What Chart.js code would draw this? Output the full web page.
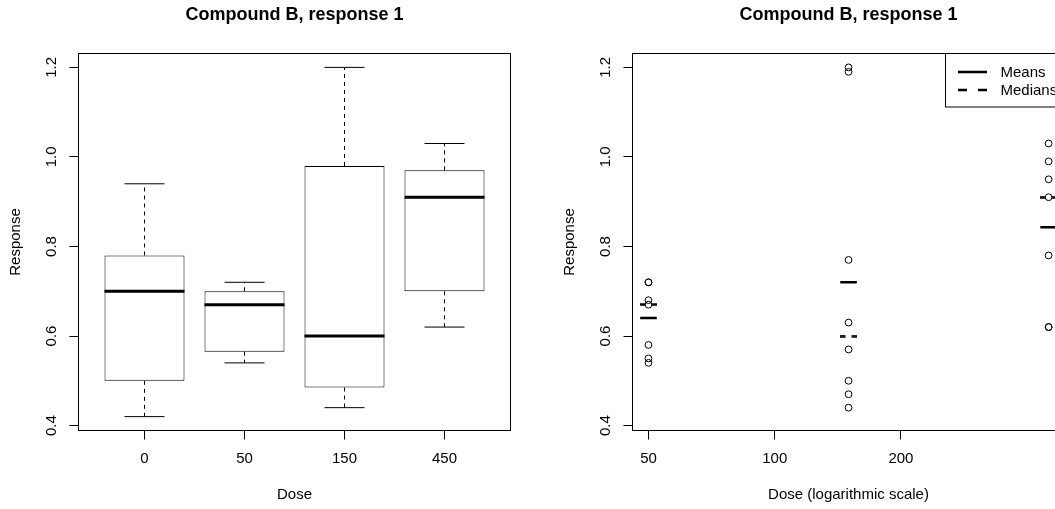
<!DOCTYPE html>
<html lang="en">
<head>
<meta charset="UTF-8">
<title>Compound B, response 1</title>
<script src="https://cdn.jsdelivr.net/npm/chart.js"></script>
<style>
  html, body {
    margin: 0;
    padding: 0;
    background: #ffffff;
    width: 1055px;
    height: 509px;
    overflow: hidden;
  }
  .panel {
    position: absolute;
    top: 0;
    width: 554px;
    height: 509px;
  }
  #leftPanel { left: 0; }
  #rightPanel { left: 554px; }
</style>
</head>
<body>

<div class="panel" id="leftPanel"><canvas id="boxChart" width="554" height="509"></canvas></div>
<div class="panel" id="rightPanel"><canvas id="doseChart" width="554" height="509"></canvas></div>

<script>
  // values
  const titleText = 'Compound B, response 1';

  // left panel: boxplot per dose group
  const doseLabels = ['0', '50', '150', '450'];
  const boxMin    = [0.42, 0.54, 0.44, 0.62];
  const boxQ1     = [0.50, 0.565, 0.485, 0.70];
  const boxMedian = [0.70, 0.67, 0.60, 0.91];
  const boxQ3     = [0.78, 0.70, 0.98, 0.97];
  const boxMax    = [0.94, 0.72, 1.20, 1.03];

  // right panel: raw responses on a log dose axis
  const doseLevels  = [50, 150, 450];
  const respDose50  = [0.72, 0.72, 0.68, 0.67, 0.58, 0.55, 0.54];
  const respDose150 = [1.20, 1.19, 0.77, 0.63, 0.57, 0.50, 0.47, 0.44];
  const respDose450 = [1.03, 0.99, 0.95, 0.91, 0.78, 0.62, 0.62];
  const doseMeans   = [0.64, 0.72, 0.843];
  const doseMedians = [0.67, 0.60, 0.91];

  // axes
  const yTicks = [0.4, 0.6, 0.8, 1.0, 1.2];
  const yRange = [0.389, 1.231];
  const boxXRange = [0.34, 4.66];
  const logTicks = [50, 100, 200];
  const logXRange = [45.8, 491];
  const legendLabels = ['Means', 'Medians'];

  Chart.defaults.font.family = "'Liberation Sans', Arial, Helvetica, sans-serif";
  Chart.defaults.color = '#000';
  Chart.defaults.animation = false;
  Chart.defaults.events = [];

  const framePlugin = {
    id: 'frame',
    afterDatasetsDraw(chart) {
      const a = chart.chartArea;
      const ctx = chart.ctx;
      ctx.save();
      ctx.strokeStyle = '#000';
      ctx.lineWidth = 1;
      ctx.strokeRect(a.left, a.top, a.right - a.left, a.bottom - a.top);
      ctx.restore();
    }
  };

  const legendPlugin = {
    id: 'rLegend',
    afterDraw(chart) {
      const a = chart.chartArea;
      const ctx = chart.ctx;
      const w = 119, h = 53.5;
      const left = a.right - w, top = a.top;
      ctx.save();
      ctx.fillStyle = '#fff';
      ctx.fillRect(left, top, w, h);
      ctx.strokeStyle = '#000';
      ctx.lineWidth = 1;
      ctx.strokeRect(left, top, w, h);
      ctx.font = "15px 'Liberation Sans', Arial, sans-serif";
      ctx.fillStyle = '#000';
      ctx.textBaseline = 'middle';
      legendLabels.forEach((label, i) => {
        const y = top + 18.5 + i * 18;
        ctx.lineWidth = 2.5;
        ctx.setLineDash(i ? [9, 11] : []);
        ctx.beginPath();
        ctx.moveTo(left + 12.5, y);
        ctx.lineTo(left + 41.5, y);
        ctx.stroke();
        ctx.fillText(label, left + 55, y + 0.5);
      });
      ctx.restore();
    }
  };

  function responseAxis() {
    return {
      min: yRange[0],
      max: yRange[1],
      afterBuildTicks: s => { s.ticks = yTicks.map(v => ({ value: v })); },
      afterFit: s => { s.width = 78.5; },
      border: { display: false },
      grid: { drawOnChartArea: false, drawTicks: true, tickLength: 9, color: '#000' },
      ticks: {
        minRotation: 90, maxRotation: 90, crossAlign: 'center', padding: 7.5,
        font: { size: 15 }, color: '#000',
        callback: v => v.toFixed(1)
      },
      title: { display: true, text: 'Response', font: { size: 15 }, color: '#000', padding: { top: 6.5, bottom: 0 } }
    };
  }

  function chartTitle() {
    return {
      display: true, text: titleText, fullSize: false, color: '#000',
      font: { size: 18, weight: 'bold' },
      padding: { top: 4.7, bottom: 27.2 }
    };
  }

  // ---------- left: boxplot ----------
  const groupX = doseLabels.map((_, i) => i + 1);

  const whiskerSets = groupX.flatMap((x, i) => [
    [{ x, y: boxQ3[i] }, { x, y: boxMax[i] }],
    [{ x, y: boxQ1[i] }, { x, y: boxMin[i] }]
  ]).map(pts => ({
    type: 'line', data: pts, borderColor: '#000', borderWidth: 1,
    borderDash: [4, 4], pointRadius: 0, order: 3
  }));

  new Chart(document.getElementById('boxChart'), {
    type: 'bar',
    data: {
      datasets: [
        {
          type: 'bar',
          data: groupX.map((x, i) => ({ x, y: [boxQ1[i], boxQ3[i]] })),
          backgroundColor: '#fff', borderColor: '#000', borderWidth: 1,
          borderSkipped: false, barPercentage: 0.8, categoryPercentage: 1.0, order: 2
        },
        ...whiskerSets,
        {
          type: 'scatter',
          data: groupX.flatMap((x, i) => [{ x, y: boxMax[i] }, { x, y: boxMin[i] }]),
          pointStyle: 'line', pointRadius: 20, pointBorderWidth: 1,
          pointBorderColor: '#000', order: 1
        },
        {
          type: 'scatter',
          data: groupX.map((x, i) => ({ x, y: boxMedian[i] })),
          pointStyle: 'line', pointRadius: 40, pointBorderWidth: 3,
          pointBorderColor: '#000', order: 0
        }
      ]
    },
    options: {
      responsive: false,
      layout: { padding: { left: 0, right: 43.5, top: 0, bottom: 0 } },
      scales: {
        x: {
          type: 'linear', min: boxXRange[0], max: boxXRange[1], offset: false,
          afterBuildTicks: s => { s.ticks = groupX.map(v => ({ value: v })); },
          afterFit: s => { s.height = 78.5; },
          border: { display: false },
          grid: { offset: false, drawOnChartArea: false, drawTicks: true, tickLength: 9, color: '#000' },
          ticks: {
            padding: 10.5, maxRotation: 0, minRotation: 0, autoSkip: false,
            font: { size: 15 }, color: '#000',
            callback: (v, i) => doseLabels[i]
          },
          title: { display: true, text: 'Dose', font: { size: 15 }, color: '#000', padding: { top: 0, bottom: 5.5 } }
        },
        y: responseAxis()
      },
      plugins: {
        legend: { display: false },
        tooltip: { enabled: false },
        title: chartTitle()
      }
    },
    plugins: [framePlugin]
  });

  // ---------- right: responses vs log dose ----------
  const respByDose = [respDose50, respDose150, respDose450];

  const medianMark = document.createElement('canvas');
  medianMark.width = 17;
  medianMark.height = 3;
  const mctx = medianMark.getContext('2d');
  mctx.fillStyle = '#000';
  mctx.fillRect(0, 0.25, 5.5, 2.5);
  mctx.fillRect(11.5, 0.25, 5.5, 2.5);

  new Chart(document.getElementById('doseChart'), {
    type: 'scatter',
    data: {
      datasets: [
        {
          data: doseLevels.flatMap((d, i) => respByDose[i].map(y => ({ x: d, y }))),
          pointStyle: 'circle', pointRadius: 3.4, pointBorderWidth: 1,
          pointBorderColor: '#000', pointBackgroundColor: 'rgba(0,0,0,0)'
        },
        {
          data: doseLevels.map((d, i) => ({ x: d, y: doseMeans[i] })),
          pointStyle: 'line', pointRadius: 8.3, pointBorderWidth: 2.5,
          pointBorderColor: '#000'
        },
        {
          data: doseLevels.map((d, i) => ({ x: d, y: doseMedians[i] })),
          pointStyle: medianMark, pointRadius: 8
        }
      ]
    },
    options: {
      responsive: false,
      layout: { padding: { left: 0, right: 43.5, top: 0, bottom: 0 } },
      scales: {
        x: {
          type: 'logarithmic', min: logXRange[0], max: logXRange[1],
          afterBuildTicks: s => { s.ticks = logTicks.map(v => ({ value: v })); },
          afterFit: s => { s.height = 78.5; },
          border: { display: false },
          grid: { drawOnChartArea: false, drawTicks: true, tickLength: 9, color: '#000' },
          ticks: {
            padding: 10.5, maxRotation: 0, minRotation: 0, autoSkip: false,
            font: { size: 15 }, color: '#000',
            callback: v => String(v)
          },
          title: { display: true, text: 'Dose (logarithmic scale)', font: { size: 15 }, color: '#000', padding: { top: 0, bottom: 5.5 } }
        },
        y: responseAxis()
      },
      plugins: {
        legend: { display: false },
        tooltip: { enabled: false },
        title: chartTitle()
      }
    },
    plugins: [framePlugin, legendPlugin]
  });
</script>

</body>
</html>
